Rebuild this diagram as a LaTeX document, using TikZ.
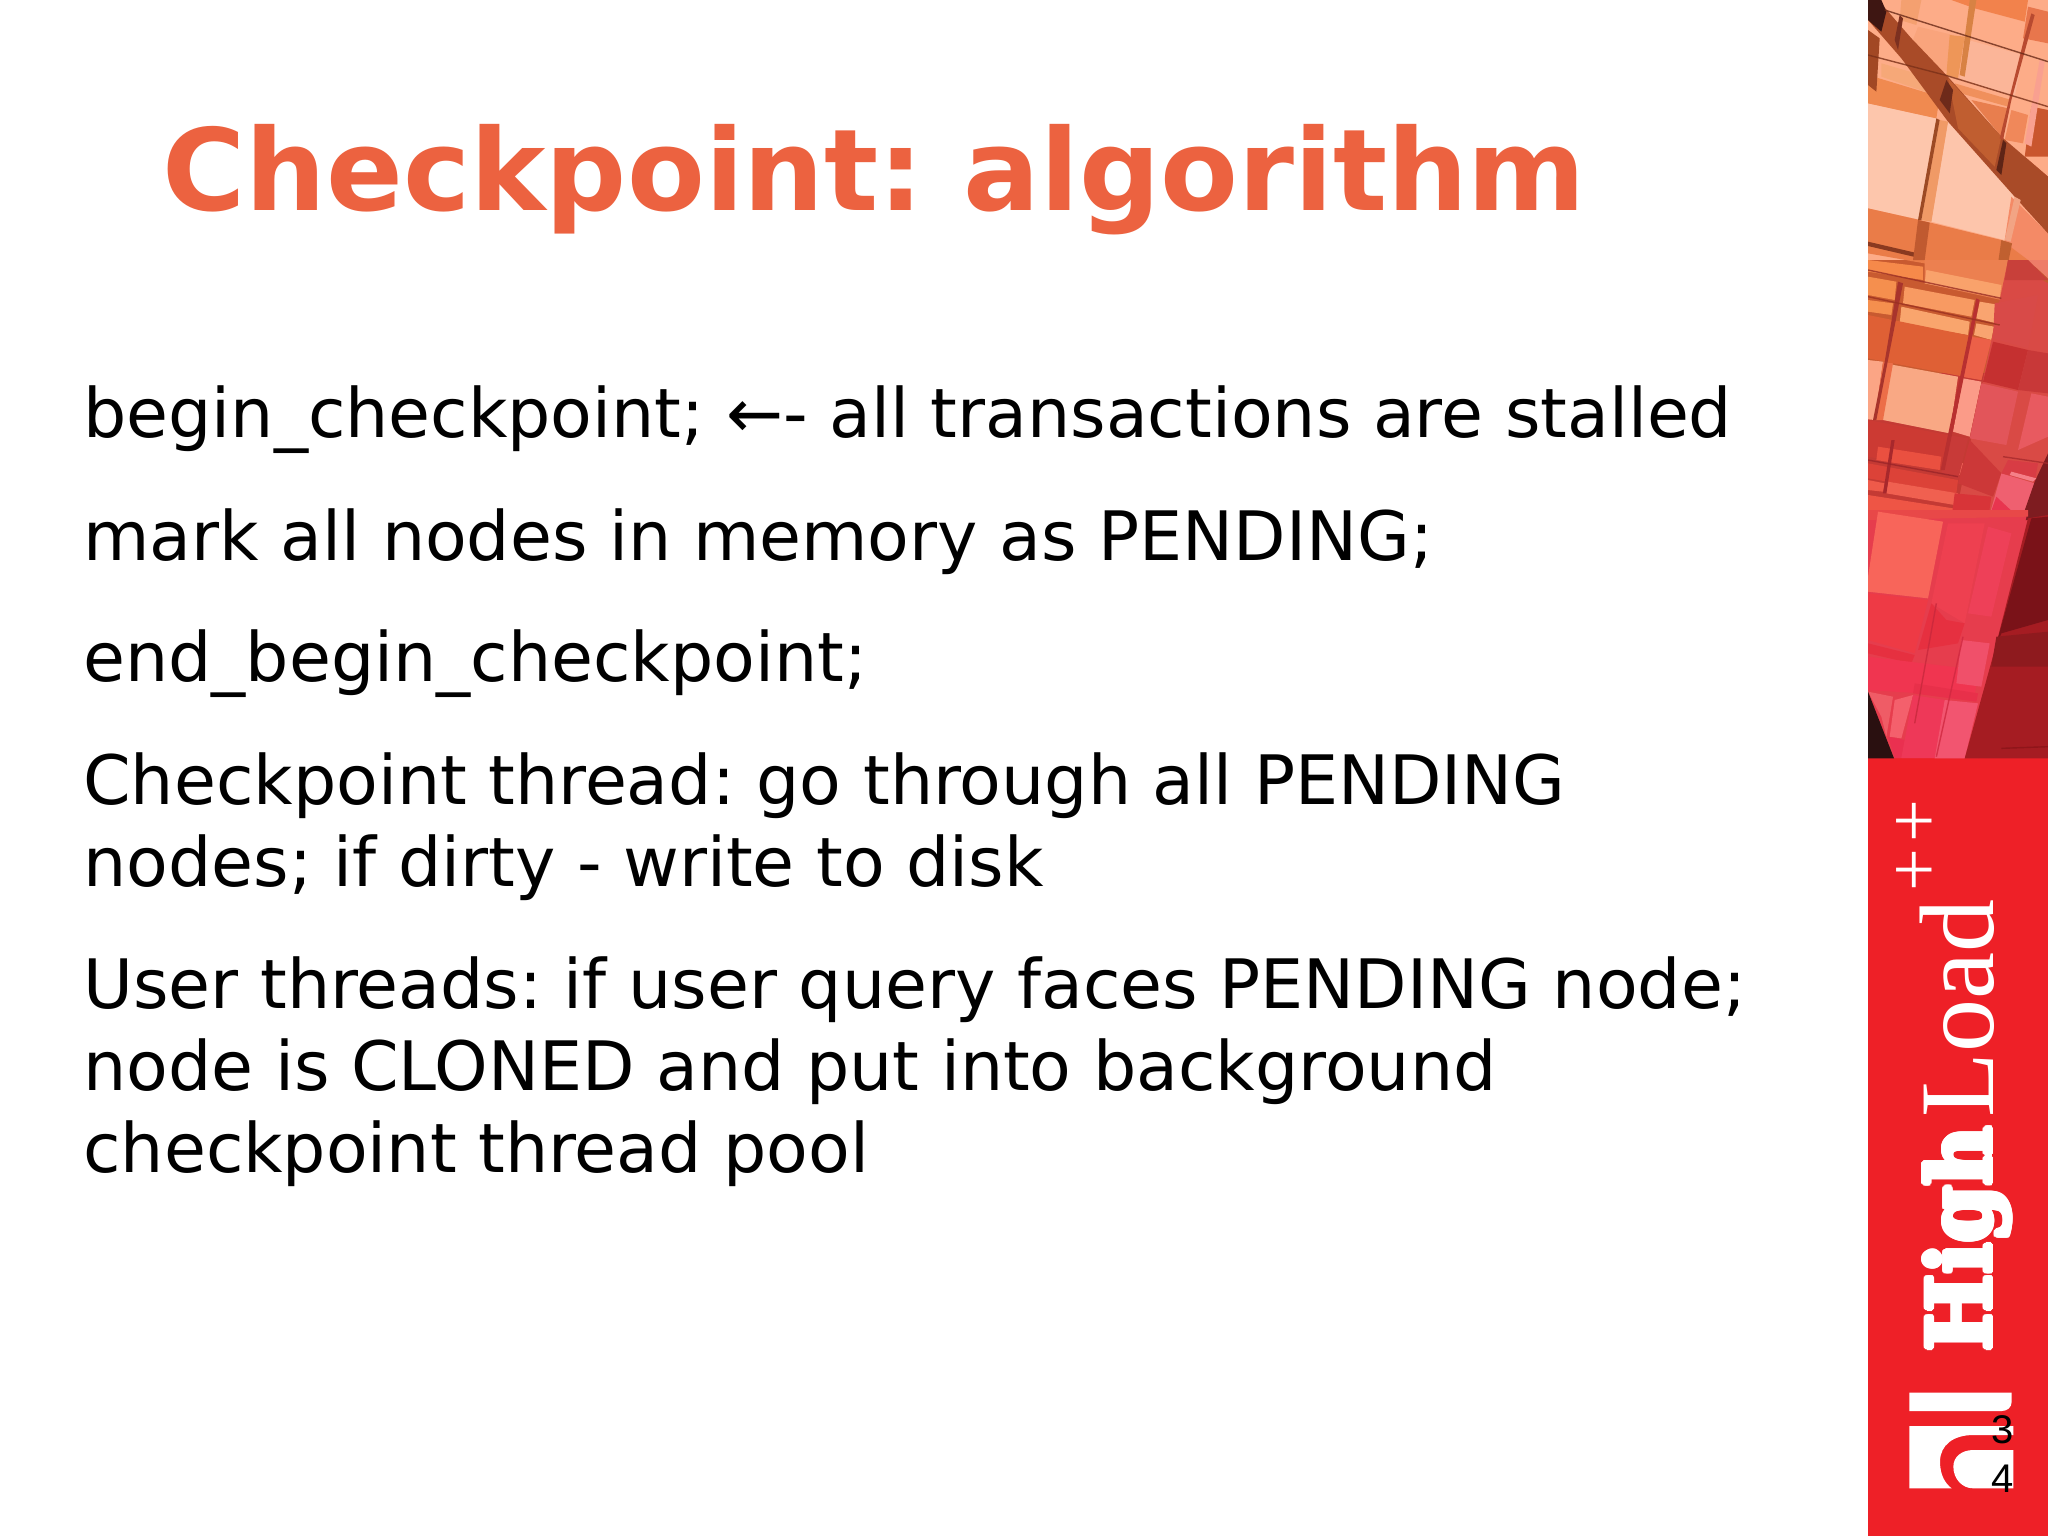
\documentclass[tikz,border=0pt]{standalone}
\usepackage{fontspec}
\usepackage[copies]{contour}
\setmainfont{DejaVu Sans}
\newfontfamily\serifbold{DejaVu Serif}
\newfontfamily\libserif{Liberation Serif}
\newfontfamily\libsans{Liberation Sans}
\definecolor{titlecol}{HTML}{EC6240}
\definecolor{barred}{HTML}{EE2027}
\contourlength{1.3pt}
\contournumber{16}
\newcommand\pf[2]{\definecolor{tmpc}{HTML}{#1}\fill[tmpc] #2 -- cycle;}
\newcommand\dkline[2]{\definecolor{tmpc}{HTML}{#1}\draw[tmpc,line width=0.7pt,opacity=.8] #2;}
\tikzset{
  x=0.5pt,y=-0.5pt,
  titletext/.style={anchor=base west,inner sep=0pt,text=titlecol,font=\fontsize{56.7}{60}\selectfont\bfseries\frenchspacing},
  bodytext/.style={anchor=base west,inner sep=0pt,text=black,font=\fontsize{34.08}{41}\selectfont\frenchspacing},
  logotext/.style={anchor=base west,inner sep=0pt,text=white,rotate=90},
  pagenum/.style={anchor=base east,inner sep=0pt,text=black,font=\libsans\fontsize{20}{20}\selectfont},
}
\begin{document}
\begin{tikzpicture}
\useasboundingbox (0,0) rectangle (2048,1536);
\fill[white] (0,0) rectangle (2048,1536);
% sidebar
\fill[barred] (1868,750) rectangle (2048,1536);
\begin{scope}[shift={(1868,0)},x=0.16667pt,y=-0.16667pt]
\clip (0,0) rectangle (540,2274);
\pf{FDAC88}{(0,0) -- (540,0) -- (540,800) -- (0,800)}
\pf{C85A30}{(0,780) -- (540,780) -- (540,1120) -- (0,1120)}
\pf{C43A34}{(0,1120) -- (540,1120) -- (540,1560) -- (0,1560)}
\pf{E63D4D}{(0,1560) -- (540,1560) -- (540,2274) -- (0,2274)}
% top light panels
\pf{FDC6AC}{(0,310) -- (205,355) -- (160,660) -- (0,625)}
\pf{FDC5AB}{(240,365) -- (440,590) -- (410,720) -- (190,665)}
\pf{F9A47C}{(150,80) -- (255,105) -- (235,215) -- (110,185)}
\pf{FBB598}{(300,120) -- (465,165) -- (440,290) -- (275,235)}
\pf{F08A50}{(0,225) -- (215,290) -- (205,355) -- (0,310)}
\pf{F6A878}{(40,190) -- (160,225) -- (215,290) -- (40,230)}
\pf{F2824C}{(250,0) -- (480,0) -- (470,65) -- (320,25)}
\pf{F4A070}{(100,0) -- (160,0) -- (145,75) -- (95,60)}
\pf{E8764C}{(480,20) -- (540,35) -- (540,130) -- (465,115)}
\pf{F0905C}{(260,250) -- (430,300) -- (420,320) -- (260,275)}
\pf{E87E4E}{(310,300) -- (420,325) -- (400,410)}
\pf{F0885A}{(430,330) -- (480,345) -- (465,430) -- (410,420)}
\pf{F48A66}{(430,590) -- (540,700) -- (540,800) -- (400,800) -- (410,720)}
% right column
\pf{C9562E}{(490,320) -- (540,330) -- (540,470) -- (470,470)}
\pf{D25A3C}{(470,470) -- (540,530) -- (540,700) -- (440,590)}
% diagonal band
\pf{A94B28}{(30,0) -- (130,115) -- (235,225) -- (400,410) -- (540,530) -- (540,700) -- (440,590) -- (240,365) -- (100,175) -- (0,60) -- (0,0)}
\pf{C05E30}{(240,235) -- (400,410) -- (380,500) -- (270,385)}
\pf{3E1612}{(0,0) -- (40,0) -- (55,35) -- (40,95) -- (0,60)}
\pf{6E2A1A}{(215,300) -- (235,240) -- (255,270) -- (245,340)}
\pf{5E2416}{(405,420) -- (415,430) -- (400,525) -- (385,510)}
\pf{7C3020}{(80,120) -- (95,45) -- (105,55) -- (90,150)}
\pf{A24824}{(0,90) -- (35,115) -- (25,275) -- (0,255)}
% orange lower
\pf{EA7C48}{(0,625) -- (155,660) -- (400,720) -- (480,780) -- (395,830) -- (0,760)}
\pf{8A3A20}{(0,725) -- (150,760) -- (145,772) -- (0,738)}
% vertical strips
\pf{F09A66}{(215,360) -- (240,365) -- (190,665) -- (160,660)}
\pf{9C4A24}{(205,355) -- (215,360) -- (160,660) -- (150,660)}
\pf{F2A484}{(440,590) -- (458,600) -- (428,725) -- (410,720)}
\pf{C05A30}{(150,660) -- (185,668) -- (170,780) -- (135,780)}
\pf{C06030}{(400,720) -- (432,730) -- (420,790) -- (390,790)}
\pf{F9A090}{(515,180) -- (530,185) -- (490,440) -- (470,430)}
\pf{B84A30}{(490,40) -- (500,45) -- (430,300) -- (405,420) -- (395,415) -- (425,290) -- (470,110)}
\pf{EE9658}{(245,105) -- (290,110) -- (270,235) -- (235,225)}
\pf{D88244}{(305,0) -- (325,0) -- (290,230) -- (275,225)}
\dkline{6A2A18}{(50,30) -- (540,185)}
\dkline{7A3018}{(0,165) -- (230,225) -- (540,320)}
% zoom-5 section, Y = 780 + zy
\begin{scope}[yshift=-130pt]
\pf{F6894A}{(0,0) -- (165,20) -- (165,60) -- (0,35)}
\pf{F58F4E}{(0,50) -- (85,65) -- (80,120) -- (0,105)}
\pf{F58F4E}{(0,120) -- (75,130) -- (70,165) -- (0,155)}
\pf{EC8050}{(170,0) -- (420,0) -- (400,120) -- (170,70)}
\pf{F9A26B}{(175,30) -- (400,75) -- (395,115) -- (170,70)}
\pf{F89A62}{(110,80) -- (320,120) -- (310,170) -- (105,130)}
\pf{F9A56D}{(100,140) -- (305,185) -- (300,225) -- (95,190)}
\pf{F9A470}{(335,125) -- (395,135) -- (385,190) -- (325,175)}
\pf{F9A470}{(325,190) -- (378,200) -- (370,240) -- (318,225)}
\pf{D94A45}{(420,0) -- (540,70) -- (540,780) -- (260,780) -- (345,360)}
\pf{DF6035}{(0,165) -- (370,240) -- (340,360) -- (50,305) -- (0,295)}
\pf{EC6048}{(305,230) -- (370,240) -- (340,360) -- (280,350)}
\pf{F9A884}{(50,310) -- (270,350) -- (245,520) -- (45,480)}
\pf{FB9B88}{(285,355) -- (340,365) -- (305,530) -- (255,515)}
\pf{FBA585}{(0,300) -- (45,305) -- (20,480) -- (0,478)}
\pf{EC6E48}{(45,305) -- (75,310) -- (45,480) -- (20,480)}
\pf{C53030}{(375,245) -- (480,270) -- (450,390) -- (345,365)}
\pf{D84A48}{(380,130) -- (510,105) -- (480,265) -- (375,235)}
\pf{E2555A}{(340,370) -- (450,395) -- (415,555) -- (305,535)}
\pf{E85A60}{(490,400) -- (540,410) -- (540,530) -- (450,570)}
\pf{C83838}{(480,270) -- (540,280) -- (540,400) -- (450,390)}
\pf{EE7C68}{(480,0) -- (540,0) -- (540,55)}
\pf{C8403A}{(420,0) -- (480,0) -- (540,60) -- (410,60)}
\pf{CC3A33}{(0,480) -- (240,525) -- (220,630) -- (0,590)}
\pf{EA5040}{(30,560) -- (220,590) -- (215,630) -- (25,600)}
\pf{F06058}{(235,600) -- (285,610) -- (275,645) -- (228,632)}
\pf{C83A38}{(240,525) -- (300,535) -- (270,660) -- (220,640)}
\pf{DC4238}{(0,610) -- (270,660) -- (265,700) -- (0,655)}
\pf{EE5A4A}{(0,660) -- (50,670) -- (45,695) -- (0,690)}
\pf{F06050}{(60,665) -- (270,700) -- (260,735) -- (55,700)}
\pf{EE5545}{(0,705) -- (255,745) -- (250,780) -- (0,750)}
\pf{D83438}{(260,700) -- (370,710) -- (360,780) -- (250,780)}
\pf{CC3838}{(305,540) -- (400,640) -- (375,710) -- (270,670)}
\pf{EF6070}{(400,640) -- (500,670) -- (460,780) -- (360,780)}
\pf{E8354F}{(385,710) -- (460,780) -- (360,780)}
\pf{D83C44}{(420,600) -- (510,610) -- (500,665) -- (400,640)}
\pf{7E1C20}{(540,580) -- (540,780) -- (460,780) -- (500,665)}
\pf{F58088}{(430,635) -- (505,655) -- (495,665) -- (425,645)}
\pf{A8282C}{(70,540) -- (80,540) -- (55,700) -- (45,700)}
\pf{B83030}{(325,115) -- (335,120) -- (230,630) -- (218,630)}
\pf{A8342C}{(90,65) -- (105,70) -- (60,300) -- (25,480) -- (15,480) -- (50,305)}
\dkline{9A2E24}{(0,30) -- (400,115)}
\dkline{9A3020}{(0,110) -- (395,195)}
\dkline{9A2428}{(0,600) -- (270,650)}
\dkline{A82A2C}{(405,590) -- (540,610)}
\end{scope}
% zoom-6 section, Y = 1530 + zy
\begin{scope}[yshift=-255pt]
\pf{E63D4D}{(0,0) -- (480,0) -- (380,420) -- (330,744) -- (0,744)}
\pf{E84848}{(0,0) -- (480,0) -- (480,20) -- (0,30)}
\pf{F8655A}{(30,5) -- (225,35) -- (180,265) -- (0,245) -- (0,200)}
\pf{EE4050}{(240,40) -- (350,40) -- (290,340) -- (190,280)}
\pf{EE4058}{(360,50) -- (430,70) -- (370,320) -- (300,310)}
\pf{EE3A45}{(0,250) -- (180,270) -- (140,430) -- (0,390)}
\pf{E63040}{(190,280) -- (235,330) -- (290,340) -- (270,400) -- (150,420)}
\pf{E63040}{(0,400) -- (140,435) -- (130,460) -- (0,430)}
\pf{F03550}{(0,440) -- (330,480) -- (320,560) -- (0,540)}
\pf{E8304A}{(140,520) -- (330,550) -- (325,575) -- (135,550)}
\pf{F0506A}{(280,390) -- (365,400) -- (340,530) -- (265,520)}
\pf{EF5C66}{(0,545) -- (75,560) -- (55,680) -- (40,620)}
\pf{F4606C}{(80,570) -- (135,555) -- (100,685) -- (65,680)}
\pf{EA3050}{(60,680) -- (110,690) -- (100,744) -- (80,744)}
\pf{EE3858}{(135,555) -- (230,570) -- (200,744) -- (100,744)}
\pf{F25570}{(230,570) -- (330,580) -- (290,745) -- (200,745)}
\pf{2A1010}{(0,545) -- (78,745) -- (0,745)}
\pf{A51C22}{(480,25) -- (540,15) -- (540,745) -- (290,745) -- (380,420)}
\pf{7A1218}{(490,25) -- (540,20) -- (540,330) -- (400,370) -- (380,420)}
\pf{8E1A1E}{(385,380) -- (540,365) -- (540,470) -- (370,470)}
\dkline{8A1418}{(400,715) -- (540,710)}
\dkline{C8283C}{(205,280) -- (140,640)}
\dkline{D02840}{(285,380) -- (205,740)}
\end{scope}
\end{scope}
% logo mark
\begin{scope}[shift={(1890,1380)},x=0.16667pt,y=-0.16667pt]
\fill[white] (58,38) -- (365,38) -- (365,65) .. controls (365,82) and (352,93) .. (335,93) -- (58,93) -- cycle;
\fill[white] (58,138) -- (370,138) -- (370,165) -- (250,165) .. controls (190,165) and (150,195) .. (150,245) .. controls (150,285) and (165,310) .. (185,325) -- (58,325) -- cycle;
\fill[white] (370,210) -- (250,210) .. controls (215,210) and (190,230) .. (190,260) .. controls (190,295) and (215,325) .. (250,325) -- (370,325) -- cycle;
\end{scope}
\node[logotext,font=\serifbold\bfseries\fontsize{44}{50}\selectfont,xscale=.93] (high) at (1991,1352) {\contour{white}{High}};
\node[logotext,font=\libserif\fontsize{53}{55}\selectfont] (load) at (1993,1118) {Load};
\node[logotext,font=\libserif\fontsize{38}{44}\selectfont] (plus) at (1939,892) {+\kern3pt+};
\node[pagenum] (pagea) at (2014,1443) {3};
\node[pagenum] (pageb) at (2014,1492) {4};
% title and body
\node[titletext] (title) at (162,210) {Checkpoint: algorithm};
\node[bodytext] (l1) at (83,437) {begin\_checkpoint; ←- all transactions are stalled};
\node[bodytext] (l2) at (83,560) {mark all nodes in memory as PENDING;};
\node[bodytext] (l3) at (83,681) {end\_begin\_checkpoint;};
\node[bodytext] (l4) at (83,804) {Checkpoint thread: go through all PENDING};
\node[bodytext] (l5) at (83,886) {nodes; if dirty - write to disk};
\node[bodytext] (l6) at (83,1008) {User threads: if user query faces PENDING node;};
\node[bodytext] (l7) at (83,1090) {node is CLONED and put into background};
\node[bodytext] (l8) at (83,1172) {checkpoint thread pool};
\end{tikzpicture}
\end{document}
